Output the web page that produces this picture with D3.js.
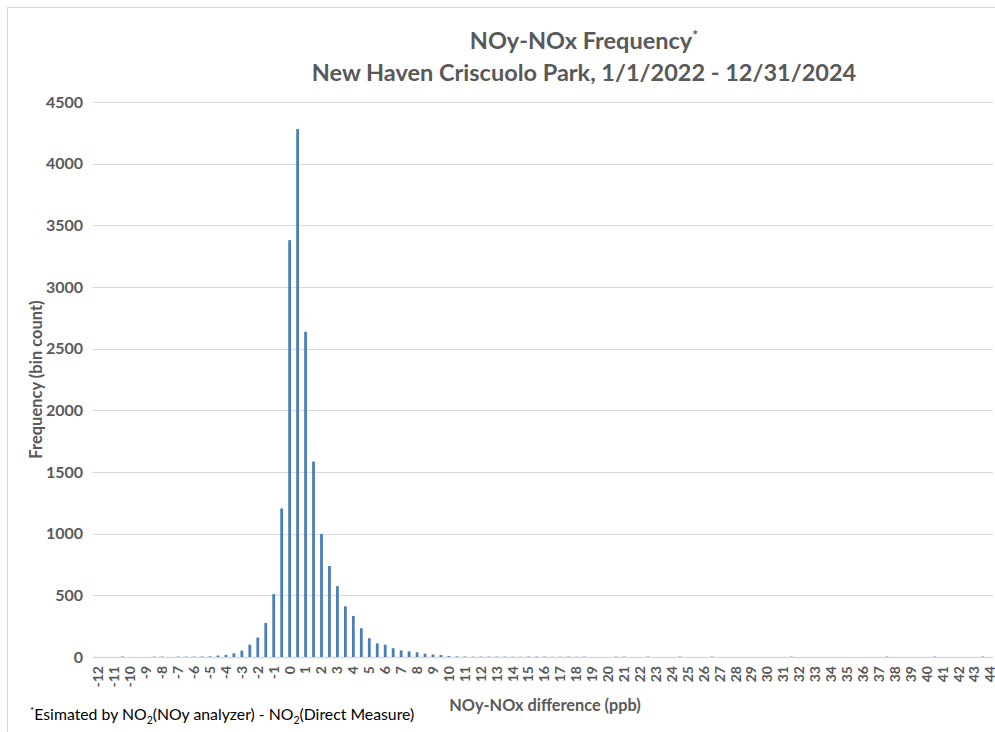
<!DOCTYPE html>
<html>
<head>
<meta charset="utf-8">
<script src="https://cdn.jsdelivr.net/npm/d3@7/dist/d3.min.js"></script>
<style>
  html, body { margin: 0; padding: 0; background: #fff; }
  svg { display: block; font-family: Lato, "Open Sans", "Liberation Sans", sans-serif; }
</style>
</head>
<body>
<svg id="chart" width="995" height="732"></svg>
<script>
// ---- Data ----
const binStarts = d3.range(-12, 44.001, 0.5).map(v => Math.round(v * 10) / 10);
const binCounts = [
  0, 0, 0, 4, 0, 0, 0, 3, 3, 0,          // -12 .. -7.5
  3, 3, 3, 4, 5, 12, 18, 30, 52, 100,    // -7 .. -2.5
  158, 276, 510, 1204, 3380, 4281, 2637, 1585, 998, 738, // -2 .. 2.5
  574, 411, 333, 233, 152, 111, 100, 71, 54, 46,         // 3 .. 7.5
  38, 27, 20, 16, 8, 5, 4, 3, 3, 3,       // 8 .. 12.5
  3, 3, 2, 2, 3, 3, 3, 2, 2, 3,           // 13 .. 17.5
  2, 3, 0, 0, 0, 3, 3, 0, 0, 3,           // 18 .. 22.5
  0, 0, 0, 3, 0, 0, 0, 3, 0, 0,           // 23 .. 27.5
  0, 0, 0, 0, 0, 0, 0, 3, 0, 0,           // 28 .. 32.5
  0, 0, 0, 0, 0, 0, 0, 0, 0, 3,           // 33 .. 37.5
  0, 0, 0, 0, 0, 3, 0, 0, 0, 0,           // 38 .. 42.5
  0, 3, 0                                 // 43 .. 44
];
const yTicks = [0, 500, 1000, 1500, 2000, 2500, 3000, 3500, 4000, 4500];
const xTickLabels = binStarts.filter(v => Number.isInteger(v));

const titleLine1 = "NOy-NOx Frequency";
const titleLine2 = "New Haven Criscuolo Park, 1/1/2022 - 12/31/2024";
const yTitle = "Frequency (bin count)";
const xTitle = "NOy-NOx difference (ppb)";

// ---- Layout ----
const svg = d3.select("#chart");
const plot = { left: 93, right: 993, top: 102, bottom: 657 };
const textColor = "#595959";
const gridColor = "#d9d9d9";
const barColor = "#4a7ebb";

// chart border
svg.append("rect")
  .attr("x", 7.5).attr("y", 7.5)
  .attr("width", 1000).attr("height", 740)
  .attr("fill", "none").attr("stroke", gridColor).attr("stroke-width", 1);

const x = d3.scaleBand()
  .domain(binStarts)
  .range([plot.left + 1.5, plot.right + 1.5])
  .paddingInner(0.65)
  .paddingOuter(0.325);

const y = d3.scaleLinear()
  .domain([0, 4500])
  .range([plot.bottom, plot.top]);

// gridlines
svg.append("g").selectAll("line")
  .data(yTicks)
  .join("line")
  .attr("x1", plot.left).attr("x2", plot.right)
  .attr("y1", d => Math.round(y(d)) + 0.5)
  .attr("y2", d => Math.round(y(d)) + 0.5)
  .attr("stroke", gridColor)
  .attr("stroke-width", d => d === 0 ? 1.5 : 1);

// y tick labels
svg.append("g").selectAll("text")
  .data(yTicks)
  .join("text")
  .attr("x", 83)
  .attr("y", d => y(d))
  .attr("dy", "0.35em")
  .attr("text-anchor", "end")
  .attr("fill", textColor)
  .attr("font-size", 16)
  .attr("font-weight", "bold")
  .text(d => d);

// bars
svg.append("g").selectAll("rect")
  .data(binStarts.map((b, i) => ({ b, v: binCounts[i] })))
  .join("rect")
  .attr("x", d => x(d.b))
  .attr("width", x.bandwidth())
  .attr("y", d => y(d.v))
  .attr("height", d => y(0) - y(d.v))
  .attr("fill", barColor);

// x tick labels
svg.append("g").selectAll("text")
  .data(xTickLabels)
  .join("text")
  .attr("transform", d => `translate(${x(d) + x.bandwidth() / 2},666) rotate(-90)`)
  .attr("dy", "0.35em")
  .attr("text-anchor", "end")
  .attr("fill", textColor)
  .attr("font-size", 14)
  .attr("font-weight", "bold")
  .text(d => d);

// titles
const t = svg.append("text")
  .attr("x", 584).attr("y", 49)
  .attr("text-anchor", "middle")
  .attr("fill", textColor)
  .attr("font-size", 23.5)
  .attr("font-weight", "bold");
t.append("tspan").text(titleLine1);
t.append("tspan").attr("font-size", 14).attr("dy", -9).text("*");

svg.append("text")
  .attr("x", 584).attr("y", 81)
  .attr("text-anchor", "middle")
  .attr("fill", textColor)
  .attr("font-size", 23.5)
  .attr("font-weight", "bold")
  .text(titleLine2);

// axis titles
svg.append("text")
  .attr("transform", `translate(36,${(plot.top + plot.bottom) / 2}) rotate(-90)`)
  .attr("dy", "0.35em")
  .attr("text-anchor", "middle")
  .attr("fill", textColor)
  .attr("font-size", 16.5)
  .attr("font-weight", "bold")
  .text(yTitle);

svg.append("text")
  .attr("x", 545).attr("y", 711)
  .attr("text-anchor", "middle")
  .attr("fill", textColor)
  .attr("font-size", 16.3)
  .attr("font-weight", "bold")
  .text(xTitle);

// footnote
const fn = svg.append("text")
  .attr("x", 30).attr("y", 720)
  .attr("fill", "#000")
  .attr("font-size", 15.8);
fn.append("tspan").attr("font-size", 10).attr("dy", -6).text("*");
fn.append("tspan").attr("dy", 6).text("Esimated by NO");
fn.append("tspan").attr("font-size", 10.5).attr("dy", 4).text("2");
fn.append("tspan").attr("dy", -4).text("(NOy analyzer) - NO");
fn.append("tspan").attr("font-size", 10.5).attr("dy", 4).text("2");
fn.append("tspan").attr("dy", -4).text("(Direct Measure)");
</script>
</body>
</html>
